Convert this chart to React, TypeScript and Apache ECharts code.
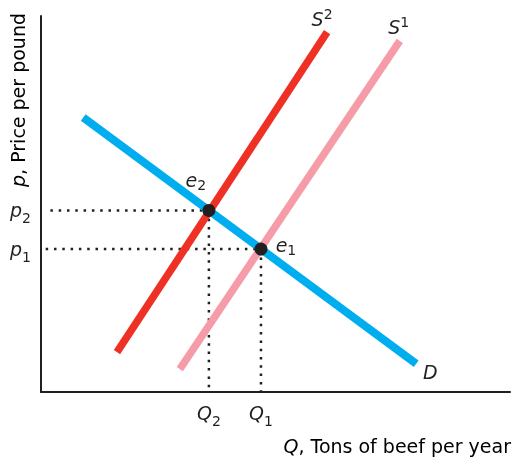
import React, { useEffect, useRef } from "react";
import * as echarts from "echarts";

const FONT = '"DejaVu Sans", "Liberation Sans", Arial, sans-serif';
const INK = "#231f20";

// Demand curve D (quantity, price) endpoints
const demandQ = [9, 80];
const demandP = [73, 7.5];
// Supply after shift S2
const supply2Q = [16.2, 61];
const supply2P = [10.6, 95.7];
// Original supply S1
const supply1Q = [29.6, 76.5];
const supply1P = [6.1, 93.4];
// Equilibria e2, e1
const eqNames = ["2", "1"];
const eqQ = [35.8, 46.9];
const eqP = [48.3, 38];
const guideStartQ = [2, 1];

const rich: any = {
  i: { fontFamily: FONT, fontSize: 19, fontStyle: "italic", color: INK, lineHeight: 30, verticalAlign: "middle" },
  ie: { fontFamily: FONT, fontSize: 19, fontStyle: "italic", color: INK, lineHeight: 24, verticalAlign: "middle" },
  n: { fontFamily: FONT, fontSize: 19, color: INK, lineHeight: 24, verticalAlign: "middle" },
  sub: { fontFamily: FONT, fontSize: 14, color: INK, lineHeight: 14, verticalAlign: "bottom" },
  sube: { fontFamily: FONT, fontSize: 14, color: INK, lineHeight: 16, verticalAlign: "bottom" },
  sup: { fontFamily: FONT, fontSize: 14, color: INK, lineHeight: 16, verticalAlign: "top" },
};

const pair = (qs: number[], ps: number[]) => qs.map((q, k) => [q, ps[k]]);

function labelFor(values: number[], letter: string) {
  return (v: number) => {
    const k = values.findIndex((x) => Math.abs(x - v) < 1e-6);
    return k < 0 ? "" : `{i|${letter}}{sub|${eqNames[k]}}`;
  };
}

export default function App() {
  const ref = useRef<HTMLDivElement>(null);
  useEffect(() => {
    if (!ref.current) return;
    const chart = echarts.init(ref.current, null, { renderer: "svg" });
    const dotted = (pts: number[][]) => ({
      type: "line",
      data: pts,
      symbol: "none",
      silent: true,
      z: 1,
      lineStyle: { color: INK, width: 2.5, type: [2.5, 5.8] },
    });
    const guides: any[] = [];
    eqQ.forEach((q, k) => {
      guides.push(dotted([[guideStartQ[k], eqP[k]], [q, eqP[k]]]));
      guides.push(dotted([[q, eqP[k]], [q, 0]]));
    });
    const curve = (data: number[][], color: string, width: number, text: string, offset: number[]) => ({
      type: "line",
      data,
      symbol: "none",
      silent: true,
      z: 2,
      lineStyle: { color, width, cap: "butt" },
      endLabel: {
        show: true,
        formatter: text,
        rich,
        distance: 0,
        align: "center",
        verticalAlign: "middle",
        offset,
      },
    });
    chart.setOption({
      animation: false,
      grid: { left: 41, right: 2, top: 16, bottom: 69, containLabel: false },
      xAxis: {
        type: "value",
        min: 0,
        max: 100,
        splitLine: { show: false },
        axisLine: { show: true, onZero: false, lineStyle: { color: INK, width: 2 } },
        axisTick: { show: false },
        axisLabel: {
          customValues: eqQ,
          formatter: labelFor(eqQ, "Q"),
          rich,
          margin: 6,
        },
      },
      yAxis: {
        type: "value",
        min: 0,
        max: 100,
        splitLine: { show: false },
        axisLine: { show: true, onZero: false, lineStyle: { color: INK, width: 2 } },
        axisTick: { show: false },
        axisLabel: {
          customValues: eqP,
          formatter: labelFor(eqP, "p"),
          rich,
          margin: 10,
        },
      },
      graphic: [
        {
          type: "text",
          x: 18,
          y: 13,
          rotation: Math.PI / 2,
          silent: true,
          style: {
            text: "{ie|p}{n|, Price per pound}",
            rich,
            align: "right",
            verticalAlign: "middle",
            textAlign: "right",
            textVerticalAlign: "middle",
          },
        },
        {
          type: "text",
          x: 511,
          y: 446,
          silent: true,
          style: {
            text: "{ie|Q}{n|, Tons of beef per year}",
            rich,
            align: "right",
            verticalAlign: "middle",
            textAlign: "right",
            textVerticalAlign: "middle",
          },
        },
      ],
      series: [
        ...guides,
        curve(pair(demandQ, demandP), "#00aeef", 8, "{ie|D}", [14, 8]),
        curve(pair(supply2Q, supply2P), "#ee3124", 7.5, "{ie|S}{sup|2}", [-5, -13]),
        curve(pair(supply1Q, supply1P), "#f59ca8", 7.5, "{ie|S}{sup|1}", [-1, -14]),
        {
          type: "scatter",
          z: 3,
          silent: true,
          symbolSize: 13,
          itemStyle: { color: INK, opacity: 1 },
          data: eqQ.map((q, k) => ({
            value: [q, eqP[k]],
            label: {
              show: true,
              position: "inside",
              formatter: `{ie|e}{sube|${eqNames[k]}}`,
              rich,
              offset: k === 0 ? [-13, -30] : [25, -4],
            },
          })),
        },
      ],
    });
    return () => chart.dispose();
  }, []);
  return <div ref={ref} style={{ position: "fixed", left: 0, top: 0, width: 512, height: 461 }} />;
}
